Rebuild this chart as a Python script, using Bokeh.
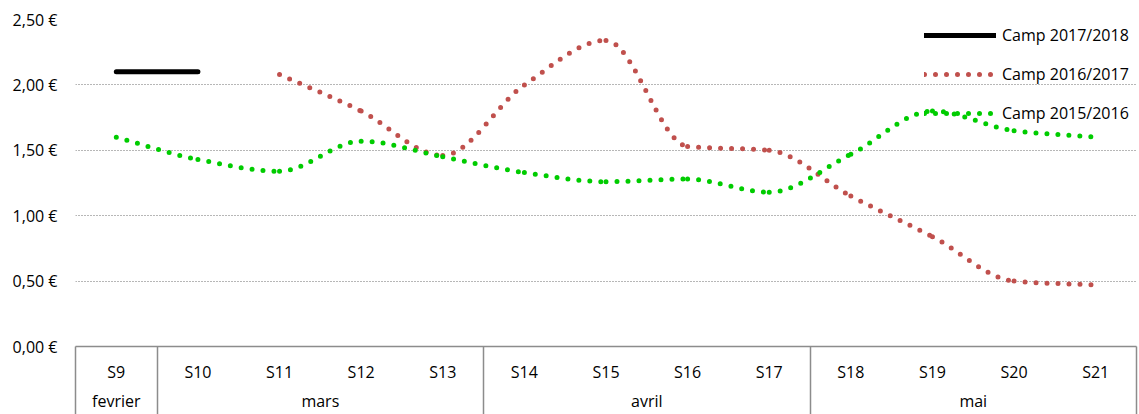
import math
import numpy as np
from bokeh.plotting import figure
from bokeh.models import (FactorRange, Range1d, LinearAxis, CategoricalAxis, FixedTicker,
                          CustomJSTickFormatter, Legend, LegendItem, ColumnDataSource)
from bokeh.embed import file_html
from bokeh.resources import INLINE

# ---------------- data ----------------
weeks = ["S9", "S10", "S11", "S12", "S13", "S14", "S15", "S16", "S17", "S18", "S19", "S20", "S21"]
months = ["fevrier", "mars", "avril", "mai"]
month_weeks = [1, 4, 4, 4]
nan = float("nan")
camp_2017_2018 = [2.10, 2.10, nan, nan, nan, nan, nan, nan, nan, nan, nan, nan, nan]
camp_2016_2017 = [nan, nan, 2.08, 1.80, 1.46, 2.00, 2.34, 1.53, 1.50, 1.15, 0.84, 0.50, 0.47]
camp_2015_2016 = [1.60, 1.43, 1.34, 1.57, 1.45, 1.33, 1.26, 1.28, 1.18, 1.47, 1.80, 1.65, 1.60]
series_labels = ["Camp 2017/2018", "Camp 2016/2017", "Camp 2015/2016"]
y_ticks = [0.0, 0.5, 1.0, 1.5, 2.0, 2.5]

FONT = "Open Sans"
FS = "16px"
GRAY = "#8c8c8c"


def smooth_source(values):
    """Monotone cubic (Fritsch-Carlson) Bezier segments through the data points."""
    idx = [i for i, v in enumerate(values) if not math.isnan(v)]
    y = np.array([values[i] for i in idx], dtype=float)
    n = len(y)
    d = np.diff(y)
    m = np.zeros(n)
    m[0], m[-1] = d[0], d[-1]
    for k in range(1, n - 1):
        if d[k - 1] * d[k] <= 0:
            m[k] = 0.0
        else:
            m[k] = 2.0 / (1.0 / d[k - 1] + 1.0 / d[k])
    w = [weeks[i] for i in idx]
    return ColumnDataSource(dict(
        x0=[(w[k], 0.0) for k in range(n - 1)],
        y0=list(y[:-1]),
        x1=[(w[k + 1], 0.0) for k in range(n - 1)],
        y1=list(y[1:]),
        cx0=[(w[k], 1 / 3) for k in range(n - 1)],
        cy0=list(y[:-1] + m[:-1] / 3),
        cx1=[(w[k + 1], -1 / 3) for k in range(n - 1)],
        cy1=list(y[1:] - m[1:] / 3),
    ))


p = figure(width=1139, height=414, x_range=FactorRange(factors=weeks, range_padding=0, factor_padding=0),
           y_range=Range1d(0, 2.5), output_backend="svg", toolbar_location=None,
           x_axis_location=None, min_border_left=75, min_border_right=3,
           min_border_top=19, min_border_bottom=67)
p.outline_line_color = None
p.background_fill_color = "white"
p.border_fill_color = "white"
p.xgrid.visible = False

# y axis
p.yaxis.ticker = FixedTicker(ticks=y_ticks)
p.yaxis.formatter = CustomJSTickFormatter(code="return tick.toFixed(2).replace('.', ',') + ' €'")
p.yaxis.axis_line_color = None
p.yaxis.major_tick_line_color = None
p.yaxis.minor_tick_line_color = None
p.yaxis.major_label_standoff = 12
p.yaxis.major_label_text_font = FONT
p.yaxis.major_label_text_font_size = FS
p.yaxis.major_label_text_color = "black"
p.ygrid.ticker = FixedTicker(ticks=y_ticks[1:])
p.ygrid.grid_line_color = "#6e6e6e"
p.ygrid.grid_line_dash = "1 2"
p.ygrid.grid_line_width = 1

# x axes: month boundaries, weeks, months (positions in the factor range's synthetic units)
bounds = [float(b) for b in np.concatenate([[0], np.cumsum(month_weeks)])]
centers = [float(b + w / 2) for b, w in zip(bounds[:-1], month_weeks)]

edge_axis = LinearAxis(ticker=FixedTicker(ticks=[], minor_ticks=bounds),
                       axis_line_color=None, major_tick_line_color=None,
                       major_tick_in=0, major_tick_out=0, major_label_standoff=0,
                       minor_tick_line_color=GRAY, minor_tick_line_width=1.5,
                       minor_tick_in=-90, minor_tick_out=0)
week_axis = CategoricalAxis(axis_line_color=GRAY, axis_line_width=1.5,
                            major_tick_line_color=None, major_tick_in=0, major_tick_out=0,
                            major_label_standoff=14, major_label_text_font=FONT,
                            major_label_text_font_size=FS, major_label_text_color="black")
month_axis = LinearAxis(ticker=FixedTicker(ticks=centers),
                        formatter=CustomJSTickFormatter(
                            args=dict(names=months, centers=centers),
                            code="const i = centers.indexOf(tick); return i >= 0 ? names[i] : '';"),
                        axis_line_color=None, major_tick_line_color=None, minor_tick_line_color=None,
                        major_tick_in=0, major_tick_out=0, major_label_standoff=4,
                        major_label_text_font=FONT, major_label_text_font_size=FS,
                        major_label_text_color="black")
p.add_layout(edge_axis, "below")
p.add_layout(week_axis, "below")
p.add_layout(month_axis, "below")

# series
r_2017 = p.line(weeks, camp_2017_2018, line_color="black", line_width=5, line_cap="round")
r_2016 = p.bezier(x0="x0", y0="y0", x1="x1", y1="y1", cx0="cx0", cy0="cy0", cx1="cx1", cy1="cy1",
                  source=smooth_source(camp_2016_2017), line_color="#c0504d", line_width=5,
                  line_dash="0 11", line_cap="round")
r_2015 = p.bezier(x0="x0", y0="y0", x1="x1", y1="y1", cx0="cx0", cy0="cy0", cx1="cx1", cy1="cy1",
                  source=smooth_source(camp_2015_2016), line_color="#00cc00", line_width=5,
                  line_dash="0 11", line_cap="round")

legend = Legend(items=[LegendItem(label=series_labels[0], renderers=[r_2017]),
                       LegendItem(label=series_labels[1], renderers=[r_2016]),
                       LegendItem(label=series_labels[2], renderers=[r_2015])],
                location=(849, 222), orientation="vertical", glyph_width=72, glyph_height=20,
                label_height=20, label_standoff=6, spacing=17, padding=0, margin=0,
                border_line_color=None, background_fill_alpha=0,
                label_text_font=FONT, label_text_font_size=FS, label_text_color="black")
p.add_layout(legend)

open("out.html", "w").write(file_html(p, INLINE))
